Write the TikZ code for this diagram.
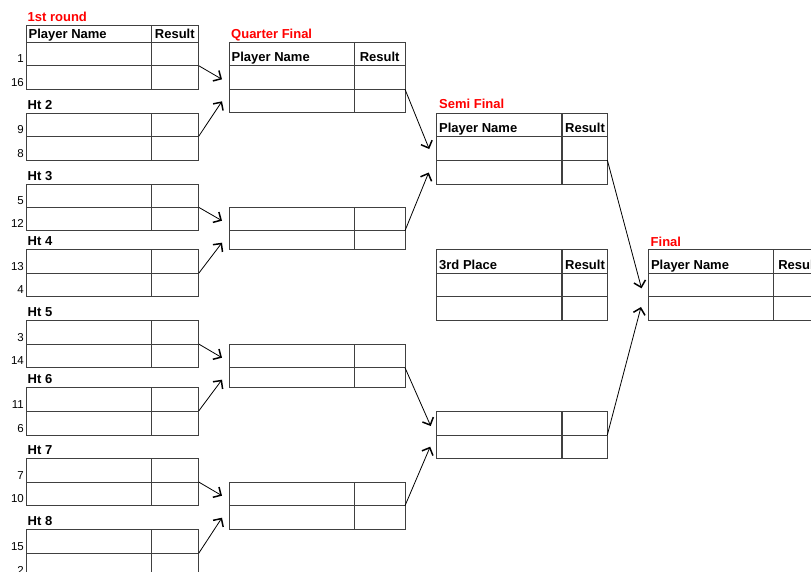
\documentclass[tikz,border=0pt]{standalone}
\usepackage{fontspec}
\setmainfont{Liberation Sans}
\usetikzlibrary{arrows.meta,calc}

\tikzset{
  cell/.style={draw=black!75,line width=0.9pt,rectangle,inner sep=0pt,outer sep=0pt,anchor=north west},
  namecol/.style={cell,minimum width=125},
  headtext/.style={anchor=base west,inner sep=0pt,font=\fontsize{13}{15}\selectfont\bfseries},
  headmid/.style={headtext,anchor=base},
  roundtitle/.style={headtext,text=red},
  seedtext/.style={anchor=base east,inner sep=0pt,font=\fontsize{11.5}{13}\selectfont},
  adv/.style={line width=0.8pt,-{Straight Barb[length=6pt,width=12pt,line width=1.5pt]}}
}

\begin{document}
\begin{tikzpicture}[x=1pt,y=-1pt]
  \useasboundingbox (0,0) rectangle (811,571);
  \clip (0,0) rectangle (811,571);

  % 1st round
  \node[roundtitle] (t1) at (27.5,21.3) {1st round};
  \node[namecol,minimum height=16.7] (r0n) at (26,25.3) {};
  \node[cell,minimum width=47.7,minimum height=16.7] (r0s) at (151,25.3) {};
  \node[headtext] (r0nt) at (28.5,38) {Player Name};
  \node[headmid] (r0st) at (174.8,38) {Result};
  \foreach \i/\ya/\yb/\yc/\sa/\sb in {1/42/65.7/89.3/1/16, 2/113.3/136.3/160/9/8,
      3/184/207.3/230.7/5/12, 4/249.3/273.3/296.7/13/4, 5/320.7/344/367.7/3/14,
      6/387.7/411/435/11/6, 7/458.7/482/505.7/7/10, 8/529.3/553.3/577/15/2}{
    \node[namecol,minimum height=\yb-\ya] (r\i n1) at (26,\ya) {};
    \node[cell,minimum width=47.7,minimum height=\yb-\ya] (r\i s1) at (151,\ya) {};
    \node[namecol,minimum height=\yc-\yb] (r\i n2) at (26,\yb) {};
    \node[cell,minimum width=47.7,minimum height=\yc-\yb] (r\i s2) at (151,\yb) {};
    \node[seedtext] (d\i a) at (24,\yb-3) {\sa};
    \node[seedtext] (d\i b) at (24,\yc-3) {\sb};
  }
  \foreach \i/\y in {2/109.3, 3/180, 4/245.3, 5/316.7, 6/383.7, 7/454.7, 8/525.3}
    \node[headtext] (h\i) at (27.5,\y) {Ht \i};

  % quarter final
  \node[roundtitle] (t2) at (231,38.6) {Quarter Final};
  \node[namecol,minimum height=23.4] (q0n) at (229,42.3) {};
  \node[cell,minimum width=50.7,minimum height=23.4] (q0s) at (354.3,42.3) {};
  \node[headtext] (q0nt) at (231.5,61.7) {Player Name};
  \node[headmid] (q0st) at (379.7,61.7) {Result};
  \foreach \i/\ya/\yb/\yc in {1/65.7/89.3/112.7, 2/207.3/230.7/249.3,
      3/344/367.7/387.7, 4/482.3/505.7/529.3}{
    \node[namecol,minimum height=\yb-\ya] (q\i n1) at (229,\ya) {};
    \node[cell,minimum width=50.7,minimum height=\yb-\ya] (q\i s1) at (354.3,\ya) {};
    \node[namecol,minimum height=\yc-\yb] (q\i n2) at (229,\yb) {};
    \node[cell,minimum width=50.7,minimum height=\yc-\yb] (q\i s2) at (354.3,\yb) {};
  }

  % semi final, 3rd place
  \node[roundtitle] (t3) at (439,108) {Semi Final};
  \foreach \i/\ya/\yb/\yc/\yd in {1/113.3/136.3/160/184, 3/249.3/273.3/296.7/320.7}{
    \node[namecol,minimum height=\yb-\ya] (s\i h) at (436.7,\ya) {};
    \node[cell,minimum width=45.3,minimum height=\yb-\ya] (s\i hs) at (562,\ya) {};
    \node[namecol,minimum height=\yc-\yb] (s\i n1) at (436.7,\yb) {};
    \node[cell,minimum width=45.3,minimum height=\yc-\yb] (s\i s1) at (562,\yb) {};
    \node[namecol,minimum height=\yd-\yc] (s\i n2) at (436.7,\yc) {};
    \node[cell,minimum width=45.3,minimum height=\yd-\yc] (s\i s2) at (562,\yc) {};
    \node[headmid] (s\i st) at (585,\yb-4.3) {Result};
  }
  \node[headtext] (s1nt) at (439,132) {Player Name};
  \node[headtext] (s3nt) at (439,269) {3rd Place};
  \node[namecol,minimum height=24] (s2n1) at (436.7,411) {};
  \node[cell,minimum width=45.3,minimum height=24] (s2s1) at (562,411) {};
  \node[namecol,minimum height=23.7] (s2n2) at (436.7,435) {};
  \node[cell,minimum width=45.3,minimum height=23.7] (s2s2) at (562,435) {};

  % final
  \node[roundtitle] (t4) at (650.5,246.3) {Final};
  \node[namecol,minimum height=24] (f0n) at (648.3,249.3) {};
  \node[cell,minimum width=50,minimum height=24] (f0s) at (773.3,249.3) {};
  \node[headtext] (f0nt) at (650.8,269) {Player Name};
  \node[headmid] (f0st) at (798.2,269) {Result};
  \node[namecol,minimum height=23.4] (f1n) at (648.3,273.3) {};
  \node[cell,minimum width=50,minimum height=23.4] (f1s) at (773.3,273.3) {};
  \node[namecol,minimum height=24] (f2n) at (648.3,296.7) {};
  \node[cell,minimum width=50,minimum height=24] (f2s) at (773.3,296.7) {};

  % advancing
  \foreach \i/\k in {1/1,3/2,5/3,7/4}
    \draw[adv] (r\i s1.south east) -- ($(q\k n1.south west)+(-7,-10)$);
  \foreach \i/\k in {2/1,4/2,6/3,8/4}
    \draw[adv] (r\i s1.south east) -- ($(q\k n1.south west)+(-7,12)$);
  \draw[adv] (q1s1.south east) -- ($(s1n1.south west)+(-7.5,-11)$);
  \draw[adv] (q2s1.south east) -- ($(s1n1.south west)+(-8,12.5)$);
  \draw[adv] (q3s1.south east) -- ($(s2n1.south west)+(-6,-9)$);
  \draw[adv] (q4s1.south east) -- ($(s2n1.south west)+(-6.5,11.7)$);
  \draw[adv] (s1s1.south east) -- ($(f1n.south west)+(-6.8,-8.4)$);
  \draw[adv] (s2s1.south east) -- ($(f1n.south west)+(-7.3,10.3)$);
\end{tikzpicture}
\end{document}
